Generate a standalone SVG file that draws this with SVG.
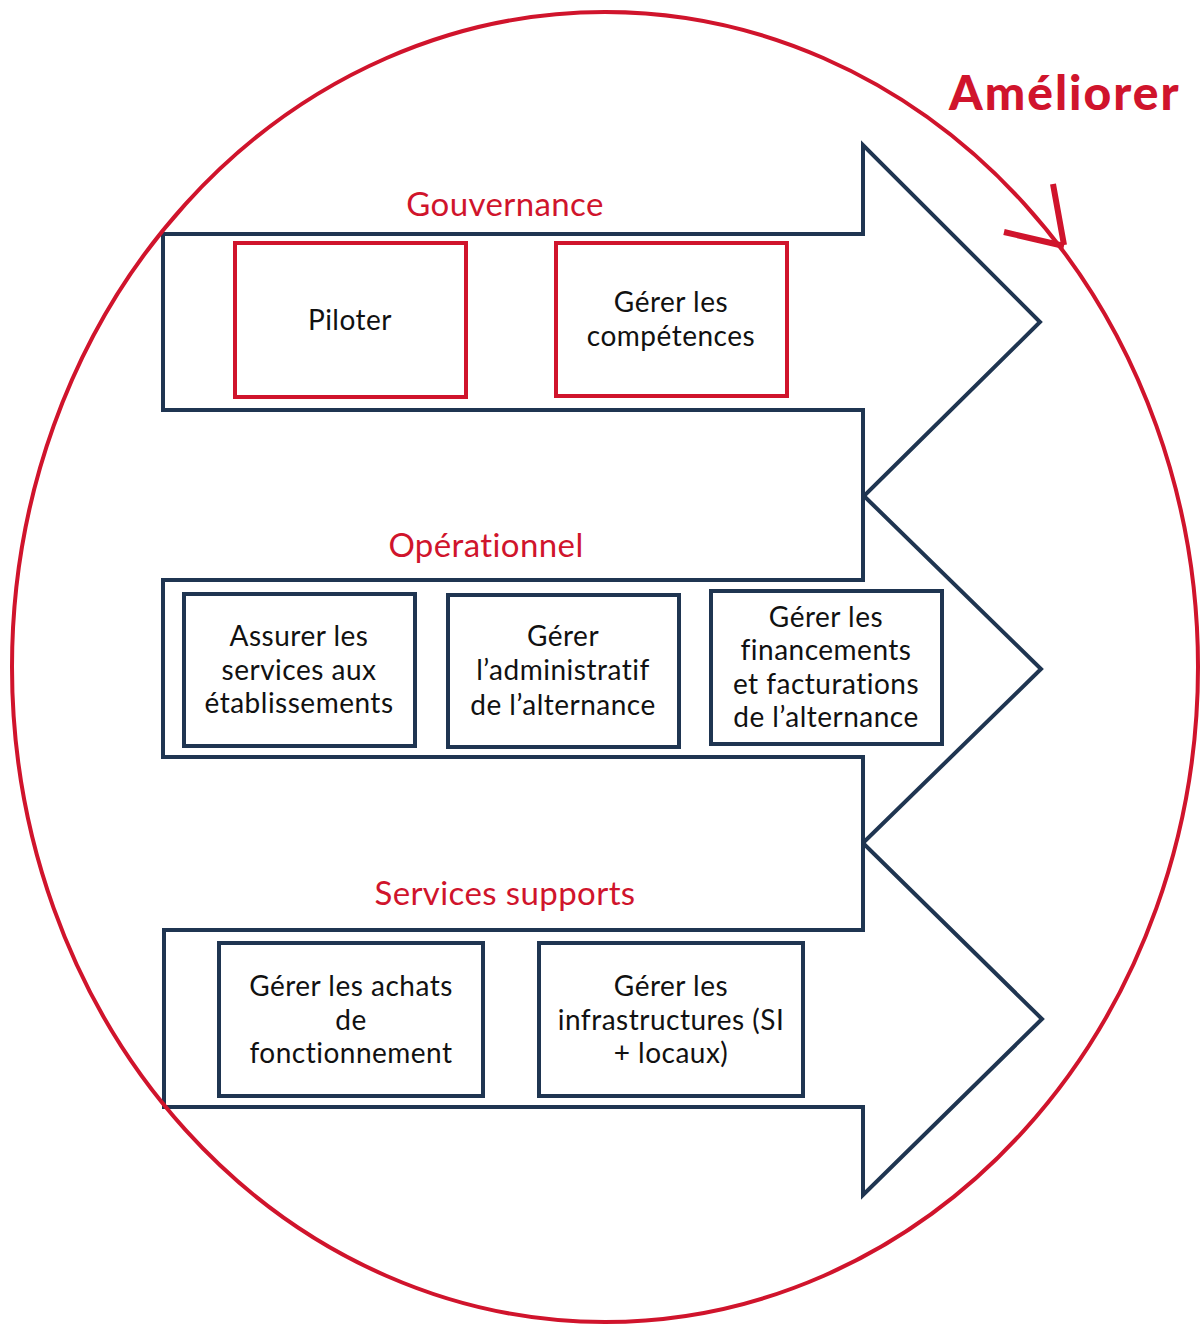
<svg xmlns="http://www.w3.org/2000/svg" width="1201" height="1326" viewBox="0 0 1201 1326">
<style>
.arrow{fill:none;stroke:#1f3551;stroke-width:4;stroke-linejoin:miter}
.rbox{fill:#fff;stroke:#d0142c;stroke-width:4}
.nbox{fill:#fff;stroke:#1f3551;stroke-width:4}
text{font-variant-ligatures:none}
.t{font-family:Lato,"Noto Sans",sans-serif;font-size:28px;letter-spacing:0.5px;fill:#111;text-anchor:middle}
.lbl{font-family:Lato,"Noto Sans",sans-serif;font-size:33px;letter-spacing:0.4px;fill:#d0142c;text-anchor:middle}
.title{font-family:Lato,"Noto Sans",sans-serif;font-size:48px;letter-spacing:2px;font-weight:900;fill:#d0142c}
.ring{fill:none;stroke:#d0142c;stroke-width:4}
.head{fill:none;stroke:#d0142c;stroke-width:6;stroke-linecap:butt}
</style>
<rect width="1201" height="1326" fill="#fff"/>
<g id="connectors">
<path id="arrow-gouvernance" class="arrow" d="M163,234 H863 V145 L1040,322 L863,497 V410 H163 Z"/>
<path id="arrow-operationnel" class="arrow" d="M163,580 H863 V495 L1041,669 L863,843 V757 H163 Z"/>
<path id="arrow-supports" class="arrow" d="M164,930 H863 V843 L1042,1019 L863,1195 V1107 H164 Z"/>
</g>
<g id="cycle">
<ellipse class="ring" cx="605" cy="667" rx="593" ry="655"/>
<path class="head" d="M1053,184 L1064,245 M1004,232 L1064,246"/>
<text class="title" x="949" y="110">Améliorer</text>
</g>
<g id="lbl-gouvernance"><text class="lbl" x="505" y="216">Gouvernance</text></g>
<g id="lbl-operationnel"><text class="lbl" x="486" y="557">Opérationnel</text></g>
<g id="lbl-supports"><text class="lbl" x="505" y="905">Services supports</text></g>
<g id="n-piloter">
<rect class="rbox" x="235" y="243" width="231" height="154"/>
<text class="t" x="350" y="330">Piloter</text>
</g>
<g id="n-competences">
<rect class="rbox" x="556" y="243" width="231" height="153"/>
<text class="t" x="671" y="312">Gérer les</text>
<text class="t" x="671" y="346">compétences</text>
</g>
<g id="n-services">
<rect class="nbox" x="184" y="594" width="231" height="152"/>
<text class="t" x="299" y="646">Assurer les</text>
<text class="t" x="299" y="680">services aux</text>
<text class="t" x="299" y="713">établissements</text>
</g>
<g id="n-administratif">
<rect class="nbox" x="448" y="595" width="231" height="152"/>
<text class="t" x="563" y="646">Gérer</text>
<text class="t" x="563" y="680">l’administratif</text>
<text class="t" x="563" y="715">de l’alternance</text>
</g>
<g id="n-financements">
<rect class="nbox" x="711" y="591" width="231" height="153"/>
<text class="t" x="826" y="627">Gérer les</text>
<text class="t" x="826" y="660">financements</text>
<text class="t" x="826" y="694">et facturations</text>
<text class="t" x="826" y="727">de l’alternance</text>
</g>
<g id="n-achats">
<rect class="nbox" x="219" y="943" width="264" height="153"/>
<text class="t" x="351" y="996">Gérer les achats</text>
<text class="t" x="351" y="1030">de</text>
<text class="t" x="351" y="1063">fonctionnement</text>
</g>
<g id="n-infrastructures">
<rect class="nbox" x="539" y="943" width="264" height="153"/>
<text class="t" x="671" y="996">Gérer les</text>
<text class="t" x="671" y="1030">infrastructures (SI</text>
<text class="t" x="671" y="1063">+ locaux)</text>
</g>
</svg>
